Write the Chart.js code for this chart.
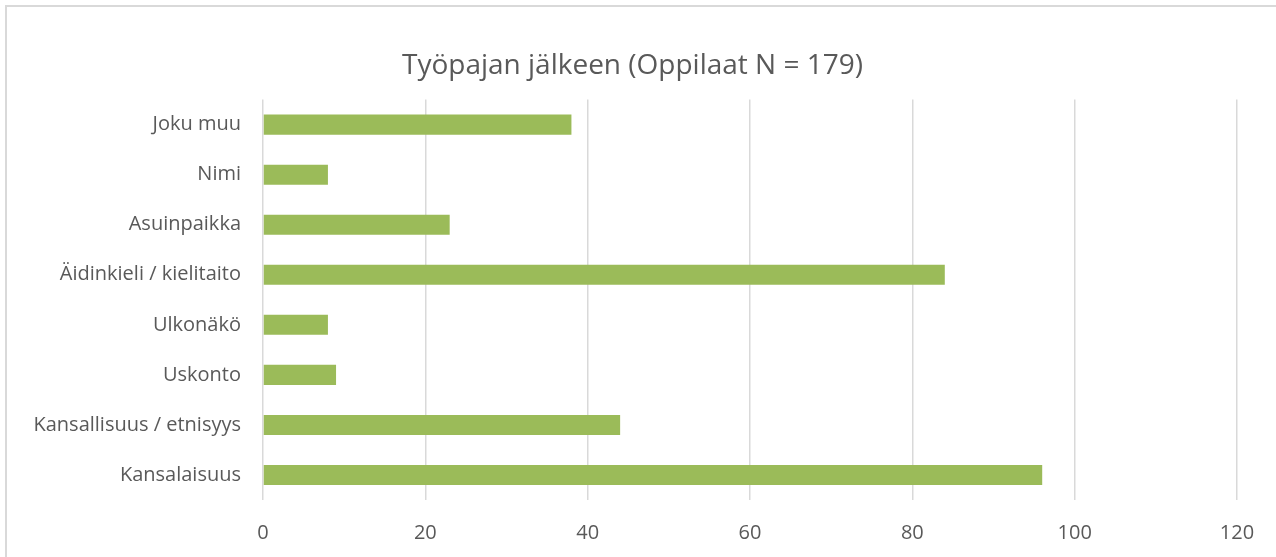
<!DOCTYPE html>
<html>
<head>
<meta charset="utf-8">
<script src="https://cdn.jsdelivr.net/npm/chart.js@4"></script>
<style>
  html, body { margin: 0; padding: 0; background: #fff; overflow: hidden; }
  #frame {
    position: absolute; left: 5px; top: 5px; width: 1320px; height: 600px;
    border: 2px solid #d9d9d9; box-sizing: border-box;
  }
  #wrap { position: absolute; left: 0; top: 0; width: 1276px; height: 557px; }
</style>
</head>
<body>
<div id="frame"></div>
<div id="wrap"><canvas id="chart"></canvas></div>
<script>
const categories = [
  "Joku muu",
  "Nimi",
  "Asuinpaikka",
  "Äidinkieli / kielitaito",
  "Ulkonäkö",
  "Uskonto",
  "Kansallisuus / etnisyys",
  "Kansalaisuus",
];
const counts = [38, 8, 23, 84, 8, 9, 44, 96];
const xTicks = [0, 20, 40, 60, 80, 100, 120];

const textColor = "#595959";
const fontFamily = "'Open Sans', 'Noto Sans', sans-serif";

new Chart(document.getElementById("chart"), {
  type: "bar",
  data: {
    labels: categories,
    datasets: [
      {
        data: counts,
        backgroundColor: "#9bbb59",
        barPercentage: 0.8,
        categoryPercentage: 0.5,
      },
    ],
  },
  options: {
    indexAxis: "y",
    responsive: true,
    maintainAspectRatio: false,
    animation: false,
    layout: { padding: { left: 28, right: 39, top: 0, bottom: 0 } },
    plugins: {
      legend: { display: false },
      tooltip: { enabled: false },
      title: {
        display: true,
        text: "Työpajan jälkeen (Oppilaat N = 179)",
        color: textColor,
        font: { family: fontFamily, size: 28, weight: "normal" },
        padding: { top: 49, bottom: 17 },
      },
    },
    scales: {
      x: {
        min: 0,
        max: 120,
        afterBuildTicks: (scale) => {
          scale.ticks = xTicks.map((v) => ({ value: v }));
        },
        afterFit: (scale) => {
          scale.height = 57;
        },
        grid: { color: "#d9d9d9", lineWidth: 1.5, drawTicks: false },
        border: { display: false },
        ticks: {
          color: textColor,
          font: { family: fontFamily, size: 20 },
          padding: 21,
        },
      },
      y: {
        afterFit: (scale) => {
          scale.width = 235;
        },
        grid: { display: false, drawTicks: false },
        border: { display: false },
        ticks: {
          color: textColor,
          font: { family: fontFamily, size: 20 },
          padding: 22,
        },
      },
    },
  },
});
</script>
</body>
</html>
